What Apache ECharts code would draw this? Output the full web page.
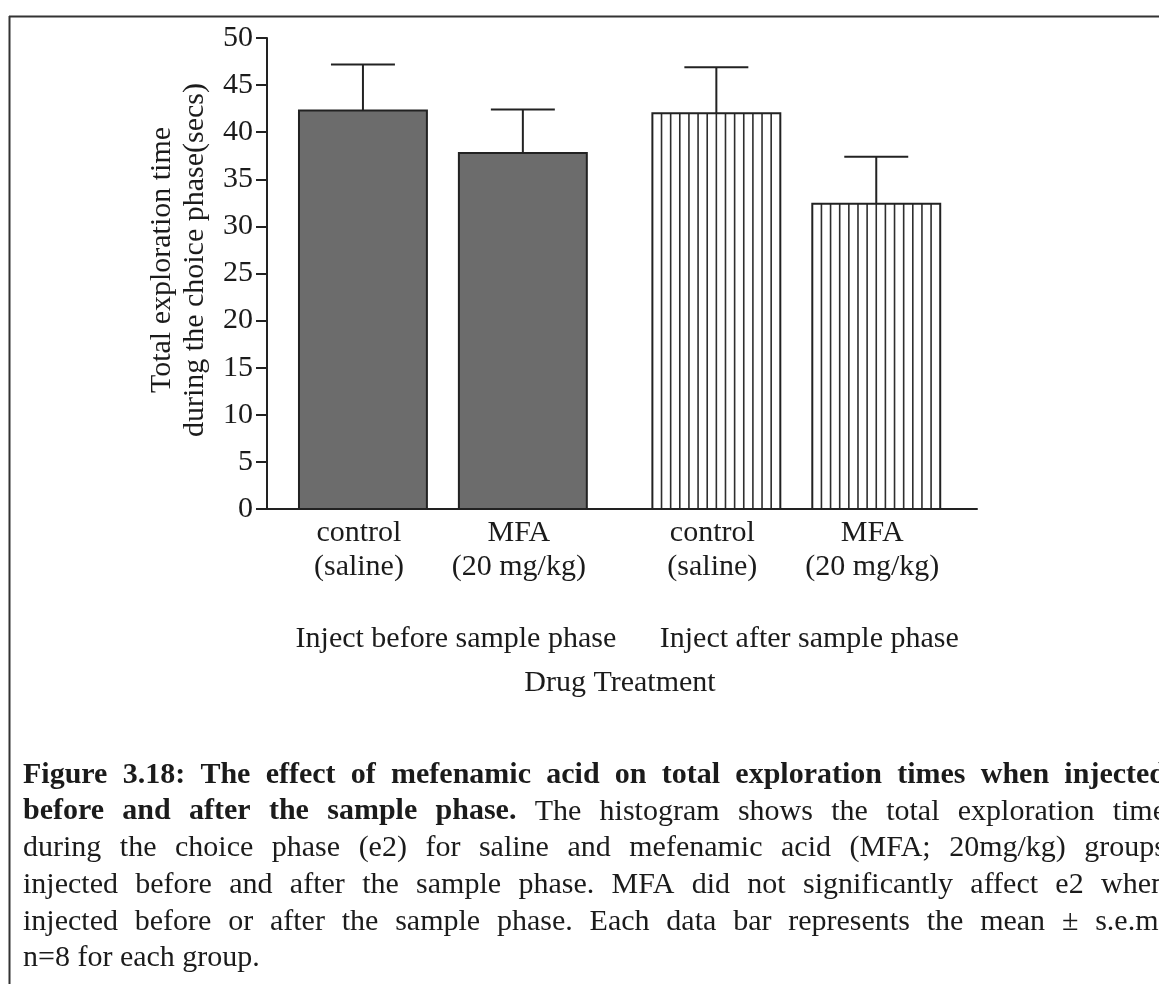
<!DOCTYPE html>
<html>
<head>
<meta charset="utf-8">
<script src="https://cdn.jsdelivr.net/npm/echarts@6/dist/echarts.min.js"></script>
<style>
  html, body { margin: 0; padding: 0; background: #ffffff; }
  #chart { width: 1159px; height: 984px; }
</style>
</head>
<body>
<div id="chart"></div>
<script>
// ---- data ----
const categoryLines = [
  ['control', '(saline)'],
  ['MFA', '(20 mg/kg)'],
  ['control', '(saline)'],
  ['MFA', '(20 mg/kg)']
];
const groupNames = ['Inject before sample phase', 'Inject after sample phase'];
const groupOfBar = [0, 0, 1, 1];
const meanTime = [42.3, 37.8, 42.0, 32.4];   // mean total exploration time (s)
const semTime = [4.9, 4.6, 4.9, 5.0];        // s.e.m.
const yAxisTitle = ['Total exploration time', 'during the choice phase(secs)'];
const xAxisTitle = 'Drug Treatment';
const captionLines = [
  [{ t: 'Figure 3.18: The effect of mefenamic acid on total exploration times when injected', b: true }],
  [{ t: 'before and after the sample phase.', b: true }, { t: 'The histogram shows the total exploration time', b: false }],
  [{ t: 'during the choice phase (e2) for saline and mefenamic acid (MFA; 20mg/kg) groups', b: false }],
  [{ t: 'injected before and after the sample phase. MFA did not significantly affect e2 when', b: false }],
  [{ t: 'injected before or after the sample phase. Each data bar represents the mean \u00b1 s.e.m.', b: false }],
  [{ t: 'n=8 for each group.', b: false }]
];

// ---- layout / style ----
const FONT = '"Liberation Serif", "Times New Roman", serif';
const TEXT = '#1b1b1b';
const INK = '#222222';
const SOLID_FILL = '#6c6c6c';
const BAR_WIDTH = 0.8;      // in slot units
const GROUP_GAP = 0.21;     // extra space between the two injection groups
const HATCH_COUNT = 14;
const FS = 30;

const chart = echarts.init(document.getElementById('chart'), null, { renderer: 'canvas' });

const barData = meanTime.map((m, i) => [i + groupOfBar[i] * GROUP_GAP, m, semTime[i], i, groupOfBar[i]]);

function renderBar(params, api) {
  const x = api.value(0), m = api.value(1), s = api.value(2);
  const i = api.value(3), g = api.value(4);
  const base = api.coord([x, 0]);
  const top = api.coord([x, m]);
  const err = api.coord([x, m + s]);
  const w = api.size([BAR_WIDTH, 0])[0];
  const left = base[0] - w / 2;
  const h = base[1] - top[1];
  const children = [];

  children.push({
    type: 'rect',
    shape: { x: left, y: top[1], width: w, height: h },
    style: { fill: g === 0 ? SOLID_FILL : '#ffffff', stroke: null }
  });
  if (g === 1) {
    for (let k = 1; k < HATCH_COUNT; k++) {
      const hx = left + k * w / HATCH_COUNT;
      children.push({
        type: 'line',
        shape: { x1: hx, y1: top[1], x2: hx, y2: base[1] },
        style: { stroke: '#2e2e2e', lineWidth: 1.6 }
      });
    }
  }
  children.push({
    type: 'rect',
    shape: { x: left, y: top[1], width: w, height: h },
    style: { fill: null, stroke: INK, lineWidth: 2 }
  });
  // error bar (upper half) with cap
  children.push({
    type: 'line',
    shape: { x1: base[0], y1: top[1], x2: base[0], y2: err[1] },
    style: { stroke: INK, lineWidth: 2 }
  });
  children.push({
    type: 'line',
    shape: { x1: base[0] - w / 4, y1: err[1], x2: base[0] + w / 4, y2: err[1] },
    style: { stroke: INK, lineWidth: 2 }
  });
  // category labels under the axis
  categoryLines[i].forEach((txt, li) => {
    children.push({
      type: 'text',
      style: {
        text: txt, x: base[0] - 4, y: base[1] + 24 + li * 34,
        align: 'center', verticalAlign: 'middle',
        font: FS + 'px ' + FONT, fill: TEXT
      }
    });
  });
  // group label, centred under each pair of bars
  if (i === 0 || groupOfBar[i - 1] !== g) {
    const next = api.coord([x + 1, 0]);
    children.push({
      type: 'text',
      style: {
        text: groupNames[g], x: (base[0] + next[0]) / 2 + 13, y: base[1] + 130,
        align: 'center', verticalAlign: 'middle',
        font: FS + 'px ' + FONT, fill: TEXT
      }
    });
  }
  return { type: 'group', children };
}

// justified caption, laid out word by word
function captionElements() {
  const ctx = document.createElement('canvas').getContext('2d');
  const fontOf = b => (b ? 'bold ' : '') + FS + 'px ' + FONT;
  const leftX = 23, rightX = 1166, firstMid = 775, pitch = 36.7;
  const els = [];
  captionLines.forEach((segs, li) => {
    const words = [];
    segs.forEach(sg => sg.t.split(' ').filter(Boolean).forEach(w => words.push({ w, b: sg.b })));
    const widths = words.map(o => { ctx.font = fontOf(o.b); return ctx.measureText(o.w).width; });
    const total = widths.reduce((a, v) => a + v, 0);
    ctx.font = fontOf(false);
    const last = li === captionLines.length - 1;
    const gap = last ? ctx.measureText(' ').width : (rightX - leftX - total) / (words.length - 1);
    let x = leftX;
    words.forEach((o, k) => {
      els.push({
        type: 'text', x: x, y: firstMid + li * pitch,
        style: { text: o.w, font: fontOf(o.b), fill: TEXT, verticalAlign: 'middle' }
      });
      x += widths[k] + gap;
    });
  });
  return els;
}

const graphics = [
  { type: 'line', shape: { x1: 9, y1: 16.5, x2: 1159, y2: 16.5 }, style: { stroke: '#333', lineWidth: 2 } },
  { type: 'line', shape: { x1: 9.5, y1: 16, x2: 9.5, y2: 984 }, style: { stroke: '#333', lineWidth: 2 } },
  {
    type: 'text', x: 162, y: 260, rotation: Math.PI / 2,
    style: { text: yAxisTitle[0], font: FS + 'px ' + FONT, fill: TEXT, align: 'center', verticalAlign: 'middle' }
  },
  {
    type: 'text', x: 195, y: 260, rotation: Math.PI / 2,
    style: { text: yAxisTitle[1], font: FS + 'px ' + FONT, fill: TEXT, align: 'center', verticalAlign: 'middle' }
  },
  {
    type: 'text', x: 620, y: 683,
    style: { text: xAxisTitle, font: FS + 'px ' + FONT, fill: TEXT, align: 'center', verticalAlign: 'middle' }
  }
].concat(captionElements());

chart.setOption({
  animation: false,
  backgroundColor: '#ffffff',
  grid: { left: 267, right: 182, top: 38, bottom: 475 },
  xAxis: {
    type: 'value', min: -0.6, max: 3.84,
    axisLine: { show: true, onZero: false, lineStyle: { color: INK, width: 2 } },
    axisTick: { show: false }, axisLabel: { show: false }, splitLine: { show: false }
  },
  yAxis: {
    type: 'value', min: 0, max: 50, interval: 5,
    axisLine: { show: true, onZero: false, lineStyle: { color: INK, width: 2 } },
    axisTick: { show: true, length: 11, lineStyle: { color: INK, width: 2 } },
    axisLabel: { fontFamily: FONT, fontSize: FS, color: TEXT, margin: 14 },
    splitLine: { show: false }
  },
  series: [{
    type: 'custom',
    clip: false,
    renderItem: renderBar,
    data: barData,
    encode: { x: 0, y: 1 }
  }],
  graphic: graphics
});
</script>
</body>
</html>
